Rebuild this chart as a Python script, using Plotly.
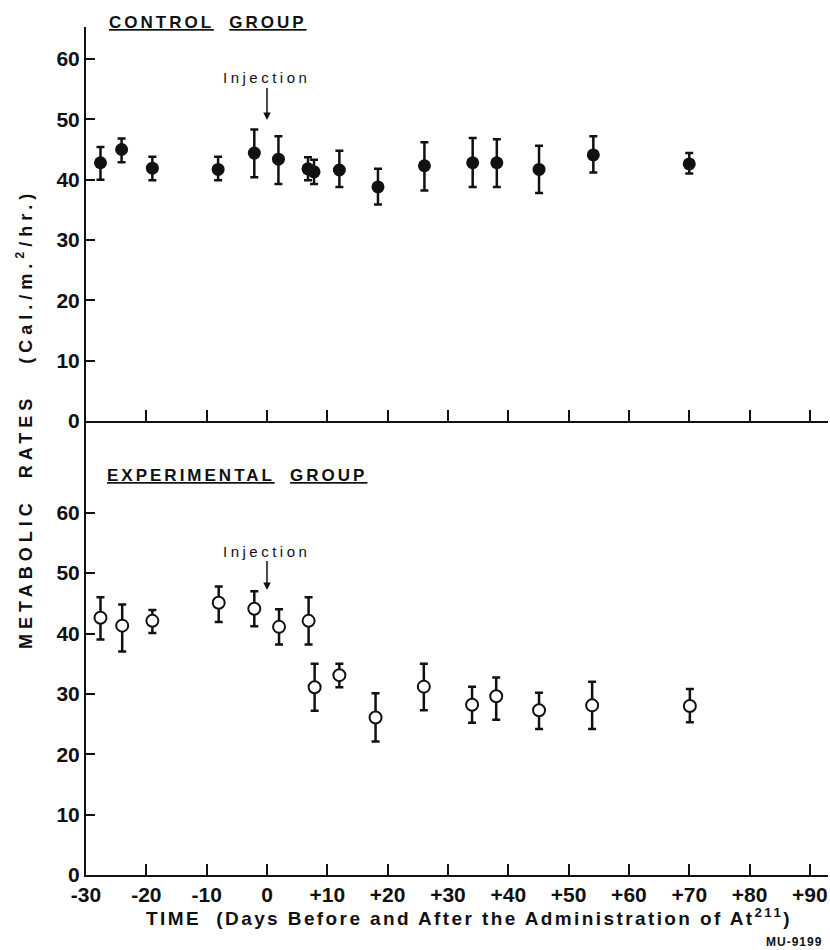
import plotly.graph_objects as go

# Control group (filled circles)
ctrl_days = [-27.6, -24.1, -19.0, -8.1, -2.1, 1.9, 6.8, 7.8, 12.0, 18.4, 26.1, 34.1, 38.1, 45.1, 54.1, 70.0]
ctrl_mean = [42.8, 45.0, 41.9, 41.7, 44.4, 43.4, 41.8, 41.3, 41.6, 38.8, 42.3, 42.8, 42.8, 41.7, 44.1, 42.6]
ctrl_hi   = [45.4, 46.8, 43.8, 43.8, 48.3, 47.2, 43.7, 43.3, 44.8, 41.8, 46.2, 46.9, 46.7, 45.6, 47.2, 44.4]
ctrl_lo   = [40.0, 42.9, 39.9, 39.9, 40.4, 39.3, 39.9, 39.3, 38.8, 35.9, 38.2, 38.8, 38.8, 37.8, 41.2, 41.0]

# Experimental group (open circles)
exp_days = [-27.6, -24.0, -19.0, -8.0, -2.1, 2.0, 6.9, 7.9, 12.0, 18.0, 26.0, 34.0, 38.0, 45.1, 53.9, 70.1]
exp_mean = [42.6, 41.3, 42.1, 45.1, 44.1, 41.1, 42.1, 31.1, 33.1, 26.1, 31.2, 28.2, 29.6, 27.3, 28.1, 28.0]
exp_hi   = [46.0, 44.8, 43.9, 47.8, 47.0, 44.0, 46.0, 35.0, 35.0, 30.1, 35.0, 31.2, 32.7, 30.2, 32.0, 30.8]
exp_lo   = [39.0, 37.0, 40.1, 41.9, 41.2, 38.2, 38.2, 27.2, 31.1, 22.1, 27.3, 25.2, 25.7, 24.2, 24.2, 25.3]

x_tickvals = [-30, -20, -10, 0, 10, 20, 30, 40, 50, 60, 70, 80, 90]
x_ticktext = ["-30", "-20", "-10", "0", "+10", "+20", "+30", "+40", "+50", "+60", "+70", "+80", "+90"]
y_tickvals = [0, 10, 20, 30, 40, 50, 60]

FONT = "Liberation Sans"
BLACK = "#111111"

fig = go.Figure()

fig.add_trace(go.Scatter(
    x=ctrl_days, y=ctrl_mean, mode="markers",
    marker=dict(symbol="circle", size=13, color=BLACK),
    error_y=dict(type="data", symmetric=False,
                 array=[h - m for h, m in zip(ctrl_hi, ctrl_mean)],
                 arrayminus=[m - l for m, l in zip(ctrl_mean, ctrl_lo)],
                 color=BLACK, thickness=2.5, width=4),
    xaxis="x2", yaxis="y2", showlegend=False))

fig.add_trace(go.Scatter(
    x=exp_days, y=exp_mean, mode="markers",
    marker=dict(symbol="circle", size=12, color="white", line=dict(color=BLACK, width=2)),
    error_y=dict(type="data", symmetric=False,
                 array=[h - m for h, m in zip(exp_hi, exp_mean)],
                 arrayminus=[m - l for m, l in zip(exp_mean, exp_lo)],
                 color=BLACK, thickness=2.5, width=4),
    xaxis="x", yaxis="y", showlegend=False))

split = (875 - 421) / 848.0
xr = [-30.0, 93.0]
axis_common = dict(showgrid=False, zeroline=False, showline=True, linecolor=BLACK, linewidth=2,
                   ticks="inside", tickcolor=BLACK, tickwidth=2)
tickfont = dict(size=21, family=FONT, weight="bold")

fig.update_layout(
    width=830, height=950,
    margin=dict(l=86, r=2, t=27, b=75),
    paper_bgcolor="white", plot_bgcolor="white",
    font=dict(family=FONT, color=BLACK),
    xaxis=dict(domain=[0, 1], range=xr, anchor="y", tickvals=x_tickvals, ticktext=x_ticktext,
               ticklen=11, tickfont=tickfont, **axis_common),
    yaxis=dict(domain=[0, split], range=[0, 75.2], anchor="x", tickvals=y_tickvals,
               ticklen=9, tickfont=tickfont, **axis_common),
    xaxis2=dict(domain=[0, 1], range=xr, anchor="y2", tickvals=x_tickvals, showticklabels=False,
                ticklen=11, **axis_common),
    yaxis2=dict(domain=[split, 1], range=[0, 65.3], anchor="x2", tickvals=y_tickvals,
                ticklen=9, tickfont=tickfont, **axis_common),
)

annotations = [
    dict(text='<b><span style="letter-spacing:3px"><u>CONTROL</u>  <u>GROUP</u></span></b>',
         xref="paper", yref="paper",
         x=(107 - 86) / 742.0, y=1 + 4 / 848.0, xanchor="left", yanchor="middle", showarrow=False,
         font=dict(size=17, family=FONT)),
    dict(text='<b><span style="letter-spacing:3px"><u>EXPERIMENTAL</u>  <u>GROUP</u></span></b>',
         xref="paper", yref="paper",
         x=(105 - 86) / 742.0, y=(875 - 475) / 848.0, xanchor="left", yanchor="middle", showarrow=False,
         font=dict(size=17, family=FONT)),
    dict(text='<span style="letter-spacing:3.5px">Injection</span>', x=0, y=49.9, xref="x2", yref="y2",
         showarrow=True, ax=0, ay=-42, arrowhead=2, arrowsize=1, arrowwidth=1.5, arrowcolor=BLACK,
         font=dict(size=15, family=FONT)),
    dict(text='<span style="letter-spacing:3.5px">Injection</span>', x=0, y=47.2, xref="x", yref="y",
         showarrow=True, ax=0, ay=-39, arrowhead=2, arrowsize=1, arrowwidth=1.5, arrowcolor=BLACK,
         font=dict(size=15, family=FONT)),
    dict(text='<b><span style="letter-spacing:5px">METABOLIC  RATES   (Cal./m.<sup>2</sup>/hr.)</span></b>',
         xref="paper", yref="paper", x=(24 - 86) / 742.0, y=(875 - 419) / 848.0,
         xanchor="center", yanchor="middle", textangle=-90, showarrow=False,
         font=dict(size=18, family=FONT)),
    dict(text='<b><span style="letter-spacing:2.4px">TIME  (Days Before and After the Administration of At<sup>211</sup>)</span></b>',
         xref="paper", yref="paper", x=(469 - 86) / 742.0, y=-(917 - 875) / 848.0,
         xanchor="center", yanchor="middle", showarrow=False,
         font=dict(size=19, family=FONT)),
    dict(text='<b><span style="letter-spacing:1px">MU-9199</span></b>', xref="paper", yref="paper",
         x=(824 - 86) / 742.0, y=-(942 - 875) / 848.0,
         xanchor="right", yanchor="middle", showarrow=False, font=dict(size=12, family=FONT)),
]
fig.update_layout(annotations=annotations)

fig.write_html("out.html")
